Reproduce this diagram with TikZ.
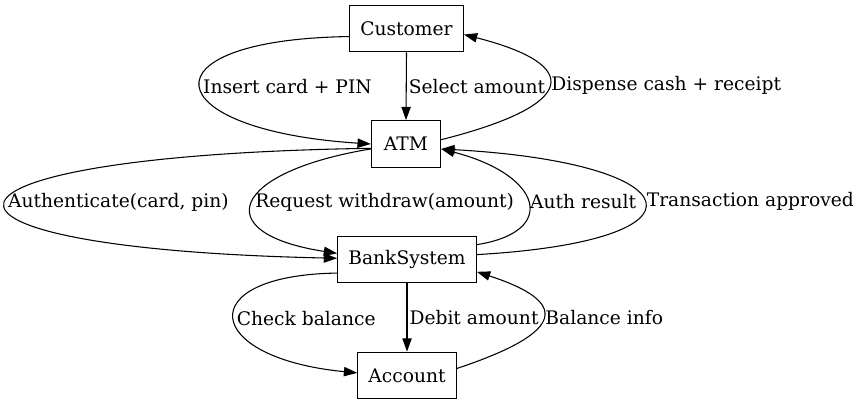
\documentclass[tikz,border=0pt]{standalone}
\usepackage{fontspec}
\setmainfont{DejaVu Serif}
\usetikzlibrary{arrows.meta}

\begin{document}
\begin{tikzpicture}[x=0.75pt, y=-0.75pt,
    every node/.style={font=\fontsize{14pt}{17pt}\selectfont},
    box/.style={rectangle, draw, line width=0.8pt, minimum width=52pt, minimum height=35pt, inner xsep=8pt},
    arrow/.style={-{Triangle[length=10pt, width=7pt]}, line width=0.8pt},
    lbl/.style={anchor=west, inner xsep=1.5pt, inner ysep=0pt},
]
\useasboundingbox (0,0) rectangle (859,407);

\node[box] (customer) at (406.5,28.5) {Customer};
\node[box] (atm) at (406,144) {ATM};
\node[box] (bank) at (407,259.5) {BankSystem};
\node[box] (account) at (407,375.5) {Account};

% customer <-> atm
\draw[arrow] (customer.188) .. controls +(-209,3) and +(-216,-14) .. (atm.west)
  node[lbl, pos=0.5] {Insert card + PIN};
\draw[arrow] (customer.south) -- (atm.north)
  node[lbl, pos=0.5] {Select amount};
\draw[arrow] (atm.7) .. controls +(139,-35) and +(118,30) .. (customer.-6)
  node[lbl, pos=0.5] {Dispense cash + receipt};

% atm <-> bank
\draw[arrow] (atm.187) .. controls +(-471,7) and +(-458,-10) .. (bank.179)
  node[lbl, pos=0.5] {Authenticate(card, pin)};
\draw[arrow] (atm.188) .. controls +(-140,23) and +(-130,-20) .. (bank.175)
  node[lbl, pos=0.5] {Request withdraw(amount)};
\draw[arrow] (bank.12) .. controls +(82,-13) and +(101,26) .. (atm.-8)
  node[lbl, pos=0.5] {Auth result};
\draw[arrow] (bank.4) .. controls +(242,-14) and +(252,14) .. (atm.-8)
  node[lbl, pos=0.5] {Transaction approved};

% bank <-> account
\draw[arrow] (bank.191) .. controls +(-146,2) and +(-155,-15) .. (account.177)
  node[lbl, pos=0.5] {Check balance};
\draw[arrow] (bank.south) -- (account.north)
  node[lbl, pos=0.5] {Debit amount};
\draw[arrow] (account.8) .. controls +(111,-37) and +(92,30) .. (bank.-10)
  node[lbl, pos=0.5] {Balance info};

\end{tikzpicture}
\end{document}
